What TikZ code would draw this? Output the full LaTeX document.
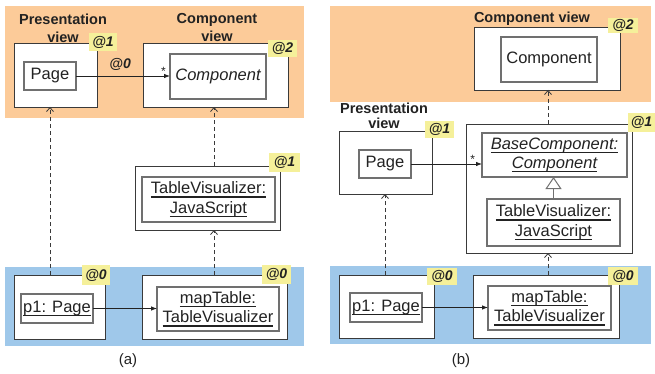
\documentclass[tikz,border=0pt]{standalone}
\usepackage{fontspec}
\setmainfont{Liberation Sans}
\usetikzlibrary{arrows.meta}
\definecolor{zoneorange}{HTML}{FCCB99}
\definecolor{zoneblue}{HTML}{9FC8EA}
\definecolor{tagyellow}{HTML}{F5F09A}
\definecolor{ink}{HTML}{222222}
\definecolor{outerline}{HTML}{3A3A3A}
\definecolor{innerline}{HTML}{707070}
% underlined text with a thick rule just below the baseline
\newcommand{\ulx}[1]{\setbox0=\hbox{#1}\rlap{\rule[-3.6pt]{\wd0}{1.3pt}}\box0}
\tikzset{
  every node/.style={text=ink, inner sep=0pt, outer sep=0pt},
  container/.style={draw=outerline, line width=0.9pt, fill=white, anchor=north west},
  inbox/.style={draw=innerline, line width=1.2pt, fill=white, anchor=north west, align=center,
    font=\fontsize{16.5}{19.5}\selectfont},
  tag/.style={fill=tagyellow, anchor=north west, font=\fontsize{14}{16}\selectfont\bfseries\itshape},
  viewlabel/.style={align=center, font=\fontsize{14.5}{18}\selectfont\bfseries},
  assoc/.style={draw=ink, line width=0.8pt, -{Latex[length=6pt,width=4.5pt]}},
  dep/.style={draw=outerline, line width=0.8pt, dash pattern=on 4pt off 3pt,
    -{Straight Barb[length=4pt,width=7pt]}},
  inherit/.style={draw=innerline, line width=1pt, -{Triangle[open,length=12pt,width=16pt,fill=white]}},
  caption/.style={font=\fontsize{15}{18}\selectfont}
}
\begin{document}
\begin{tikzpicture}[x=1pt,y=-1pt]
\useasboundingbox[fill=white] (0,0) rectangle (655,374);

% ---------- (a) ----------
\fill[zoneorange] (5,6) rectangle (304,118);
\fill[zoneblue] (5,267) rectangle (304,346);

\node[viewlabel] (presAlbl) at (63,28) {Presentation\\view};
\node[viewlabel] (compAlbl) at (217,28) {Component\\view};

\node[container, minimum width=83pt, minimum height=64pt] (presA) at (14,43) {};
\node[inbox, minimum width=52pt, minimum height=28pt] (pageA) at (24,62) {Page};
\node[tag, minimum width=28pt, minimum height=18pt] (tagPresA) at (89,33) {@1};

\node[container, minimum width=145pt, minimum height=64pt] (compA) at (143,43) {};
\node[inbox, minimum width=96pt, minimum height=45pt] (compInA) at (170,54) {\itshape Component};
\node[tag, minimum width=29pt, minimum height=17pt] (tagCompA) at (268,40) {@2};

\node[container, minimum width=145pt, minimum height=64pt] (tvA) at (135,166) {};
\node[inbox, minimum width=133pt, minimum height=45pt] (tvInA) at (142,177) {\ulx{TableVisualizer:}\\\ulx{JavaScript}};
\node[tag, minimum width=31pt, minimum height=19pt] (tagTvA) at (269,153) {@1};

\node[container, minimum width=91pt, minimum height=64pt] (p1A) at (14,275) {};
\node[inbox, minimum width=72pt, minimum height=29pt] (p1InA) at (21,294) {\ulx{p1: Page}};
\node[tag, minimum width=28pt, minimum height=20pt] (tagP1A) at (82,265) {@0};

\node[container, minimum width=145pt, minimum height=64pt] (mtA) at (142,275) {};
\node[inbox, minimum width=122pt, minimum height=44pt] (mtInA) at (157,287) {\ulx{mapTable:}\\\ulx{TableVisualizer}};
\node[tag, minimum width=29pt, minimum height=19pt] (tagMtA) at (262,265) {@0};

\coordinate (xa1) at (50,0);
\coordinate (xa2) at (214,0);
\draw[assoc] (pageA.east) -- (pageA.east -| compInA.west)
  node[pos=0.47, above=5pt, font=\fontsize{14}{16}\selectfont\bfseries\itshape] (lblA) {@0}
  node[pos=0.93, above=0.5pt, font=\fontsize{12}{14}\selectfont] (starA) {*};
\draw[assoc] (p1InA.east) -- (p1InA.east -| mtInA.west);
\draw[dep] (p1A.north -| xa1) -- (presA.south -| xa1);
\draw[dep] (mtA.north -| xa2) -- (tvA.south -| xa2);
\draw[dep] (tvA.north -| xa2) -- (compA.south -| xa2);

\node[caption] (capA) at (128,361) {(a)};

% ---------- (b) ----------
\fill[zoneorange] (330,6) rectangle (651,102);
\fill[zoneblue] (330,266) rectangle (651,344);

\node[viewlabel] (compBlbl) at (532,19) {Component view};
\node[viewlabel, font=\fontsize{14.5}{15}\selectfont\bfseries] (presBlbl) at (384,116) {Presentation\\view};

\node[container, minimum width=146pt, minimum height=63pt] (compB) at (474,27) {};
\node[inbox, minimum width=96pt, minimum height=45pt] (compInB) at (501,37) {Component};
\node[tag, minimum width=30pt, minimum height=15pt] (tagCompB) at (608,18) {@2};

\node[container, minimum width=93pt, minimum height=63pt] (presB) at (339,131) {};
\node[inbox, minimum width=52pt, minimum height=28pt] (pageB) at (359,150) {Page};
\node[tag, minimum width=29pt, minimum height=17pt] (tagPresB) at (425,121) {@1};

\node[container, minimum width=166pt, minimum height=129pt] (bigB) at (466,124) {};
\node[inbox, minimum width=145pt, minimum height=44pt] (baseB) at (482,133) {\itshape\ulx{BaseComponent:}\\\itshape\ulx{Component}};
\node[inbox, minimum width=133pt, minimum height=47pt] (tvB) at (487,199) {\ulx{TableVisualizer:}\\\ulx{JavaScript}};
\node[tag, minimum width=27pt, minimum height=19pt] (tagBigB) at (628,113) {@1};

\node[container, minimum width=95pt, minimum height=63pt] (p1B) at (339,275) {};
\node[inbox, minimum width=72pt, minimum height=29pt] (p1InB) at (350,293) {\ulx{p1: Page}};
\node[tag, minimum width=30pt, minimum height=17pt] (tagP1B) at (427,268) {@0};

\node[container, minimum width=146pt, minimum height=63pt] (mtB) at (473,275) {};
\node[inbox, minimum width=123pt, minimum height=44pt] (mtInB) at (488,286) {\ulx{mapTable:}\\\ulx{TableVisualizer}};
\node[tag, minimum width=30pt, minimum height=18pt] (tagMtB) at (608,267) {@0};

\coordinate (xb1) at (385,0);
\coordinate (xb2) at (548,0);
\draw[assoc] (pageB.east) -- (pageB.east -| baseB.west)
  node[pos=0.87, above=0.5pt, font=\fontsize{12}{14}\selectfont] (starB) {*};
\draw[inherit] (tvB.north) -- (tvB.north |- baseB.south);
\draw[assoc] (p1InB.east) -- (p1InB.east -| mtInB.west);
\draw[dep] (p1B.north -| xb1) -- (presB.south -| xb1);
\draw[dep] (mtB.north -| xb2) -- (bigB.south -| xb2);
\draw[dep] (bigB.north -| xb2) -- (compB.south -| xb2);

\node[caption] (capB) at (461,361) {(b)};
\end{tikzpicture}
\end{document}
